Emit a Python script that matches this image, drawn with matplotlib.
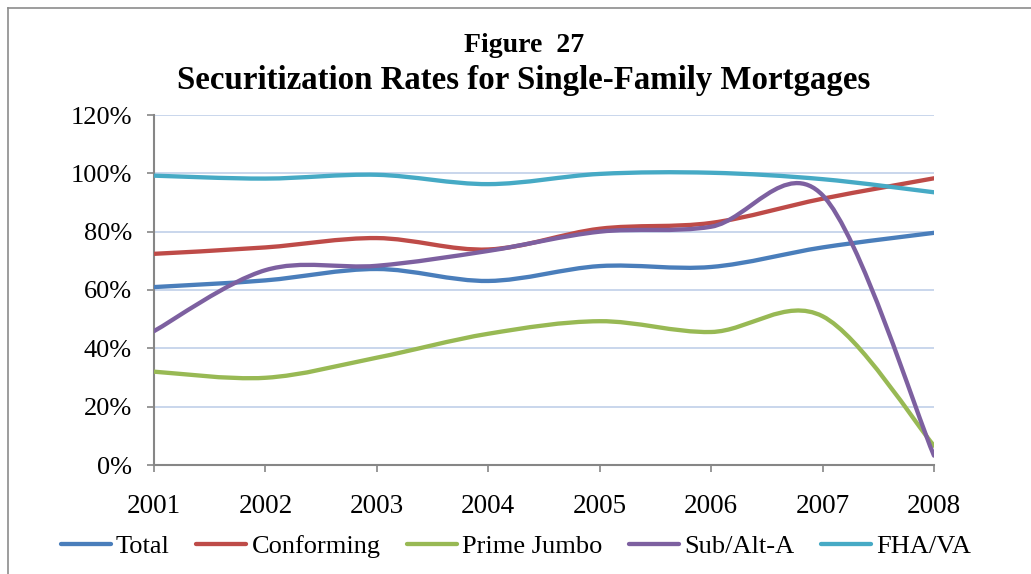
import matplotlib
matplotlib.use("Agg")
import matplotlib.pyplot as plt
from matplotlib.path import Path
from matplotlib.patches import PathPatch
from matplotlib.lines import Line2D
from matplotlib.ticker import MultipleLocator, FuncFormatter
import numpy as np

plt.rcParams['font.family'] = ['Liberation Serif', 'DejaVu Serif']

years = [2001, 2002, 2003, 2004, 2005, 2006, 2007, 2008]
total = [61, 63.3, 67.2, 63.1, 68.2, 67.9, 74.6, 79.6]
conforming = [72.4, 74.6, 77.8, 73.9, 81.0, 83.0, 91.3, 98.3]
prime_jumbo = [32, 29.9, 36.8, 45, 49.3, 45.6, 51, 6.6]
sub_alt_a = [45.9, 66.8, 68.3, 73.4, 80.0, 81.7, 92.5, 3.2]
fha_va = [99.2, 98.2, 99.5, 96.3, 99.8, 100.2, 98.0, 93.5]

series = [
    ("Total", total, "#4A7EBB"),
    ("Conforming", conforming, "#BE4B48"),
    ("Prime Jumbo", prime_jumbo, "#98B954"),
    ("Sub/Alt-A", sub_alt_a, "#7D60A0"),
    ("FHA/VA", fha_va, "#46AAC5"),
]

W, H = 1031, 574
fig = plt.figure(figsize=(W / 100, H / 100), dpi=100)
ax = fig.add_axes([154 / W, 1 - 465 / H, (934 - 154) / W, (465 - 115) / H])


def smooth_path(xs, ys):
    pts = np.column_stack([xs, ys]).astype(float)
    n = len(pts)
    verts = [pts[0]]
    codes = [Path.MOVETO]
    for i in range(n - 1):
        p0 = pts[i - 1] if i > 0 else pts[i]
        p1 = pts[i]
        p2 = pts[i + 1]
        p3 = pts[i + 2] if i + 2 < n else pts[i + 1]
        c1 = p1 + (p2 - p0) / 6.0
        c2 = p2 - (p3 - p1) / 6.0
        verts += [c1, c2, p2]
        codes += [Path.CURVE4] * 3
    return Path(verts, codes)


x_idx = list(range(len(years)))
for name, vals, color in series:
    patch = PathPatch(smooth_path(x_idx, vals), facecolor='none', edgecolor=color,
                      lw=3.1, capstyle='round', joinstyle='round', zorder=3)
    ax.add_patch(patch)

ax.set_xlim(0, len(years) - 1)
ax.set_ylim(0, 120)
ax.yaxis.set_major_locator(MultipleLocator(20))
ax.yaxis.set_major_formatter(FuncFormatter(lambda v, p: f"{int(round(v))}%"))
ax.set_xticks(x_idx)
ax.set_xticklabels([str(y) for y in years])

ax.grid(axis='y', color='#C5D3EA', lw=1.3, zorder=1)
ax.set_axisbelow(True)
for s in ['top', 'right']:
    ax.spines[s].set_visible(False)
for s in ['left', 'bottom']:
    ax.spines[s].set_color('#868686')
    ax.spines[s].set_linewidth(1.5)
    ax.spines[s].set_zorder(2)
ax.tick_params(axis='y', length=5, width=1.2, color='#868686', pad=11, labelsize=19)
ax.tick_params(axis='x', length=5, width=1.2, color='#868686', pad=16, labelsize=19.5)

handles = [Line2D([0], [0], color=c, lw=3.1, solid_capstyle='round') for _, _, c in series]
labels = [n for n, _, _ in series]
fig.legend(handles, labels, loc='center', bbox_to_anchor=(516 / W, 1 - 546 / H), ncol=5,
           frameon=False, fontsize=19, handlelength=1.9, handletextpad=0.2,
           columnspacing=1.0, borderaxespad=0, borderpad=0)

fig.text(524 / W, 1 - 52 / H, "Figure  27", ha='center', va='baseline',
         fontsize=20, fontweight='bold')
fig.text(524 / W, 1 - 89 / H, "Securitization Rates for Single-Family Mortgages",
         ha='center', va='baseline', fontsize=23.7, fontweight='bold')

fig.add_artist(Line2D([8 / W, 8 / W], [0, 1 - 8 / H], transform=fig.transFigure,
                      color='#8C8C8C', lw=1.2))
fig.add_artist(Line2D([8 / W, 1], [1 - 8 / H, 1 - 8 / H], transform=fig.transFigure,
                      color='#8C8C8C', lw=1.2))

fig.savefig("out.png", dpi=100)
